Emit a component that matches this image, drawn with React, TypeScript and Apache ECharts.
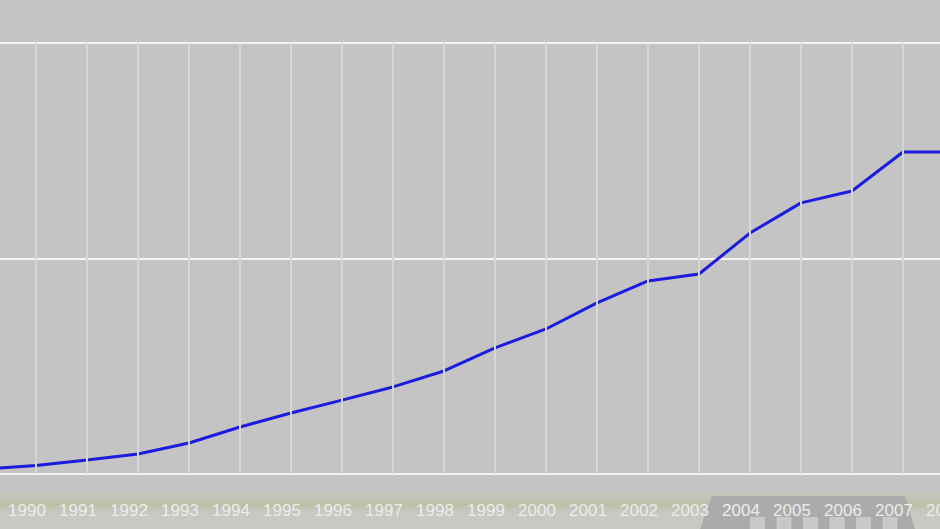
import React, { useEffect, useRef } from "react";
import * as echarts from "echarts";

const years = ["1989","1990","1991","1992","1993","1994","1995","1996","1997","1998","1999","2000","2001","2002","2003","2004","2005","2006","2007","2008"];
const values = [2.3, 3.9, 6.5, 9.3, 14.4, 21.8, 28.3, 34.3, 40.4, 47.8, 58.5, 67.3, 79.4, 89.6, 92.8, 111.8, 125.8, 131.3, 149.4, 149.4];
const hiddenLabels = ["1989"];
const yMin = 0;
const yMax = 200;
const yStep = 100;

const OFF = 15; // chart canvas starts 15px left of the page edge

export default function App() {
  const ref = useRef<HTMLDivElement>(null);
  useEffect(() => {
    document.body.style.margin = "0";
    const chart = echarts.init(ref.current!, null, { renderer: "svg" });
    const stripes: any[] = [];
    for (let i = 0; i < 6; i++) {
      stripes.push({
        type: "rect",
        shape: { x: OFF + 750 + i * 26.5, y: 517, width: 15, height: 12 },
        style: { fill: "#c9c9c9" },
      });
    }
    chart.setOption({
      animation: false,
      backgroundColor: "#c4c4c4",
      grid: { left: 0, right: 0, top: 43, bottom: 55, containLabel: false, outerBoundsMode: "none" },
      graphic: [
        {
          type: "rect",
          shape: { x: 0, y: 490, width: 980, height: 39 },
          style: {
            fill: new echarts.graphic.LinearGradient(0, 0, 0, 1, [
              { offset: 0, color: "#c4c4c4" },
              { offset: 0.2, color: "#c2c4b6" },
              { offset: 0.38, color: "#bcc0a6" },
              { offset: 0.52, color: "#c6c6bd" },
              { offset: 0.7, color: "#cac8c5" },
              { offset: 1, color: "#cbc9c6" },
            ]),
          },
        },
        {
          type: "polygon",
          shape: { points: [[OFF + 712, 496], [OFF + 905, 496], [OFF + 915, 529], [OFF + 700, 529]] },
          style: { fill: "#ababab" },
        },
        ...stripes,
      ],
      xAxis: {
        type: "category",
        data: years,
        boundaryGap: false,
        z: 10,
        axisLine: { show: false },
        axisTick: { show: false },
        axisLabel: {
          interval: 0,
          margin: 28,
          color: "#ececec",
          fontFamily: "Liberation Sans",
          fontSize: 17,
          padding: [0, 18, 0, 0],
          formatter: (v: string) => (hiddenLabels.includes(v) ? "" : v),
        },
        splitLine: { show: true, lineStyle: { color: "#d6d6d6", width: 2 } },
      },
      yAxis: {
        type: "value",
        min: yMin,
        max: yMax,
        interval: yStep,
        axisLine: { show: false },
        axisTick: { show: false },
        axisLabel: { show: false },
        splitLine: { lineStyle: { color: "#f4f4f4", width: 2 } },
      },
      series: [
        {
          type: "line",
          data: values,
          symbol: "none",
          lineStyle: { color: "#1c1ce0", width: 3 },
          z: 5,
        },
      ],
    });
    return () => chart.dispose();
  }, []);
  return <div ref={ref} style={{ position: "fixed", left: -OFF, top: 0, width: 969, height: 529 }} />;
}
